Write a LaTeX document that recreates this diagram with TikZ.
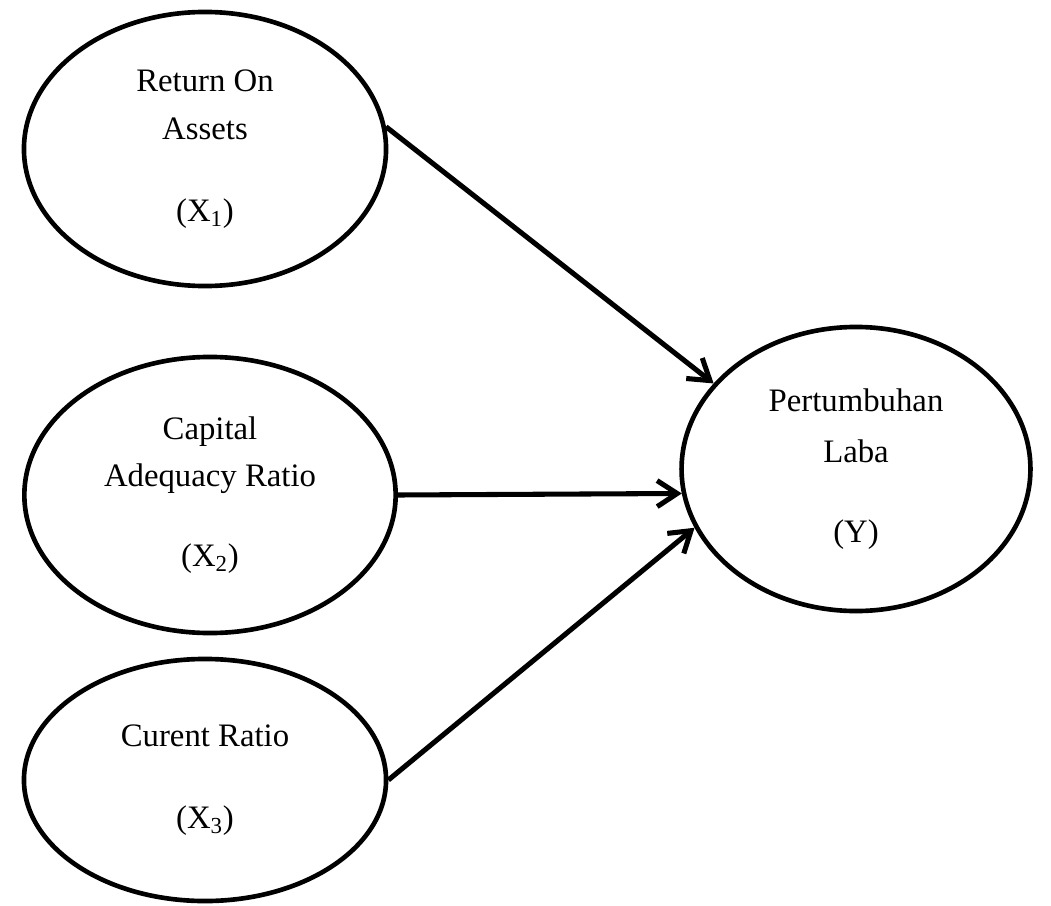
\documentclass[tikz,border=0pt]{standalone}
\usepackage{fontspec}
\setmainfont{Liberation Serif}
\usetikzlibrary{shapes.geometric,arrows.meta,positioning}
\tikzstyle{arrow} = [line width=3.6pt, -{Straight Barb[length=5mm,width=6.5mm]}]
\tikzset{
    varbox/.style={
        ellipse, draw=black, line width=3.3pt,
        inner sep=0pt, align=center,
        font=\fontsize{23.3}{34}\selectfont
    }
}

\begin{document}
\begin{tikzpicture}[x=0.025cm,y=-0.025cm]
    \useasboundingbox (0,0) rectangle (1051,906);
    % independent variables
    \node[varbox, minimum width=9.05cm, minimum height=6.85cm] (x1) at (205,149)
        {Return On\\Assets\\[0.85cm](X\textsubscript{1})};
    \node[varbox, minimum width=9.28cm, minimum height=6.9cm] (x2) at (210,495)
        {Capital\\Adequacy Ratio\\[0.8cm](X\textsubscript{2})};
    \node[varbox, minimum width=9.05cm, minimum height=6.05cm] (x3) at (205,780)
        {Curent Ratio\\[0.85cm](X\textsubscript{3})};
    % dependent variable
    \node[varbox, minimum width=8.72cm, minimum height=7.1cm] (y) at (856,469)
        {Pertumbuhan\\[0.08cm]Laba\\[0.8cm](Y)};
    % paths
    \draw[arrow] (x1.7) -- (y.149);
    \draw[arrow] (x2.east) -- (y.188);
    \draw[arrow] (x3.east) -- (y.200);
\end{tikzpicture}
\end{document}
